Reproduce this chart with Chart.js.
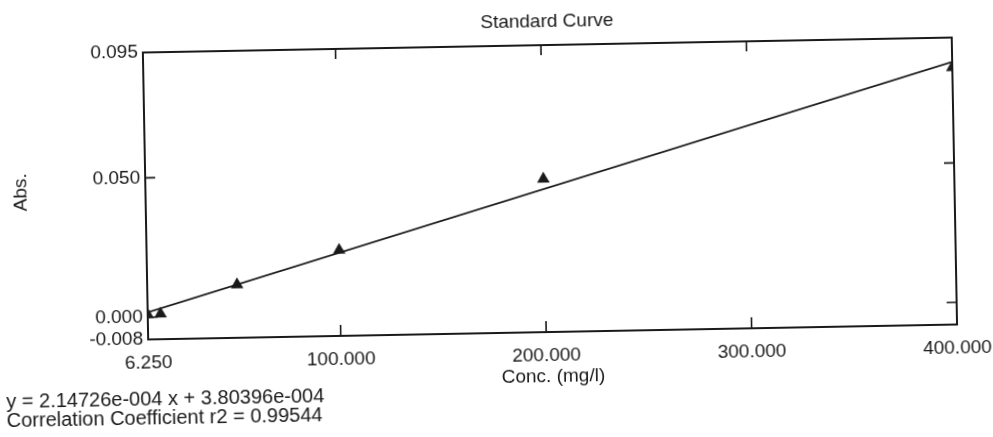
<!DOCTYPE html>
<html>
<head>
<meta charset="utf-8">
<title>Standard Curve</title>
<script src="https://cdn.jsdelivr.net/npm/chart.js@4/dist/chart.umd.min.js"></script>
<style>
  html, body { margin: 0; padding: 0; background: #ffffff; overflow: hidden; }
  #wrap {
    position: relative; width: 993px; height: 437px;
    transform: rotate(-1.06deg); transform-origin: 496.5px 218.5px;
  }
  canvas { display: block; }
</style>
</head>
<body>
<div id="wrap"><canvas id="curve" width="993" height="437"></canvas></div>
<script>
// Calibration standards: concentration (mg/l) and measured absorbance
const concentrations = [6.25, 12.5, 50, 100, 200, 400];
const absorbances    = [0.0009, 0.0011, 0.0111, 0.0228, 0.0470, 0.0843];

// Axis ticks
const xTickValues  = [6.25, 100, 200, 300, 400];
const yTickValues  = [-0.008, 0, 0.05, 0.095];
const xInnerTicks  = [100, 200, 300];
const yInnerTicks  = [0, 0.05];

// Linear fit reported by the instrument
const fitSlope      = 2.14726e-4;
const fitIntercept  = 3.80396e-4;
const correlationR2 = 0.99544;

const chartTitle = 'Standard Curve';
const xAxisTitle = 'Conc. (mg/l)';
const yAxisTitle = 'Abs.';

const INK = '#1a1a1a';
const FONT = '19px "Liberation Sans", Arial, Helvetica, sans-serif';
const NOTE_FONT = '20px "Liberation Sans", Arial, Helvetica, sans-serif';

// exponent written with three digits, e.g. 2.14726e-004
function sciText(v) {
  const [m, e] = v.toExponential(5).split('e');
  const sign = e[0] === '-' ? '-' : '+';
  const digits = e.replace(/^[+-]/, '').padStart(3, '0');
  return m + 'e' + sign + digits;
}

const xMin = xTickValues[0], xMax = xTickValues[xTickValues.length - 1];
const yMin = yTickValues[0], yMax = yTickValues[yTickValues.length - 1];

const fitLine = [xMin, xMax].map(x => ({ x, y: fitSlope * x + fitIntercept }));
const standards = concentrations.map((c, i) => ({ x: c, y: absorbances[i] }));

const framePlugin = {
  id: 'frameAndText',
  afterDraw(chart) {
    const { ctx, chartArea: a, scales } = chart;
    const sx = scales.x, sy = scales.y;
    ctx.save();

    // plot frame
    ctx.strokeStyle = INK;
    ctx.lineWidth = 2;
    ctx.strokeRect(a.left, a.top, a.right - a.left, a.bottom - a.top);

    // inward tick marks on all four sides
    ctx.lineWidth = 1.6;
    ctx.beginPath();
    xInnerTicks.forEach(v => {
      const px = sx.getPixelForValue(v);
      ctx.moveTo(px, a.bottom); ctx.lineTo(px, a.bottom - 11);
      ctx.moveTo(px, a.top);    ctx.lineTo(px, a.top + 10);
    });
    yInnerTicks.forEach(v => {
      const py = sy.getPixelForValue(v);
      ctx.moveTo(a.left, py);  ctx.lineTo(a.left + 10, py);
      ctx.moveTo(a.right, py); ctx.lineTo(a.right - 10, py);
    });
    ctx.stroke();

    ctx.fillStyle = INK;
    ctx.font = FONT;

    // y tick labels
    ctx.textAlign = 'right';
    ctx.textBaseline = 'middle';
    yTickValues.forEach(v => {
      ctx.fillText(v.toFixed(3), a.left - 5, sy.getPixelForValue(v));
    });

    // x tick labels
    ctx.textAlign = 'center';
    xTickValues.forEach(v => {
      ctx.fillText(v.toFixed(3), sx.getPixelForValue(v), a.bottom + 24);
    });

    // titles
    const midX = (a.left + a.right) / 2;
    ctx.fillText(chartTitle, midX, a.top - 23);
    ctx.fillText(xAxisTitle, midX, a.bottom + 45);

    ctx.save();
    ctx.translate(22, (a.top + a.bottom) / 2 - 6);
    ctx.rotate(-Math.PI / 2);
    ctx.fillText(yAxisTitle, 0, 0);
    ctx.restore();

    // regression summary
    ctx.font = NOTE_FONT;
    ctx.textAlign = 'left';
    ctx.fillText('y = ' + sciText(fitSlope) + ' x + ' + sciText(fitIntercept), 3, a.bottom + 60);
    ctx.fillText('Correlation Coefficient r2 = ' + correlationR2.toFixed(5), 3, a.bottom + 79);

    ctx.restore();
  }
};

new Chart(document.getElementById('curve'), {
  type: 'scatter',
  data: {
    datasets: [
      {
        label: 'Fit',
        type: 'line',
        data: fitLine,
        borderColor: INK,
        borderWidth: 1.8,
        pointRadius: 0,
        fill: false,
        tension: 0,
        clip: 0
      },
      {
        label: 'Standards',
        data: standards,
        pointStyle: 'triangle',
        pointRadius: 6.8,
        pointHoverRadius: 6.8,
        backgroundColor: INK,
        borderColor: INK,
        borderWidth: 0.5,
        clip: 0
      }
    ]
  },
  options: {
    responsive: false,
    animation: false,
    events: [],
    layout: { padding: { left: 146, right: 38, top: 46, bottom: 104 } },
    plugins: {
      legend: { display: false },
      title: { display: false },
      tooltip: { enabled: false }
    },
    scales: {
      x: { type: 'linear', min: xMin, max: xMax, display: false },
      y: { type: 'linear', min: yMin, max: yMax, display: false }
    }
  },
  plugins: [framePlugin]
});
</script>
</body>
</html>
